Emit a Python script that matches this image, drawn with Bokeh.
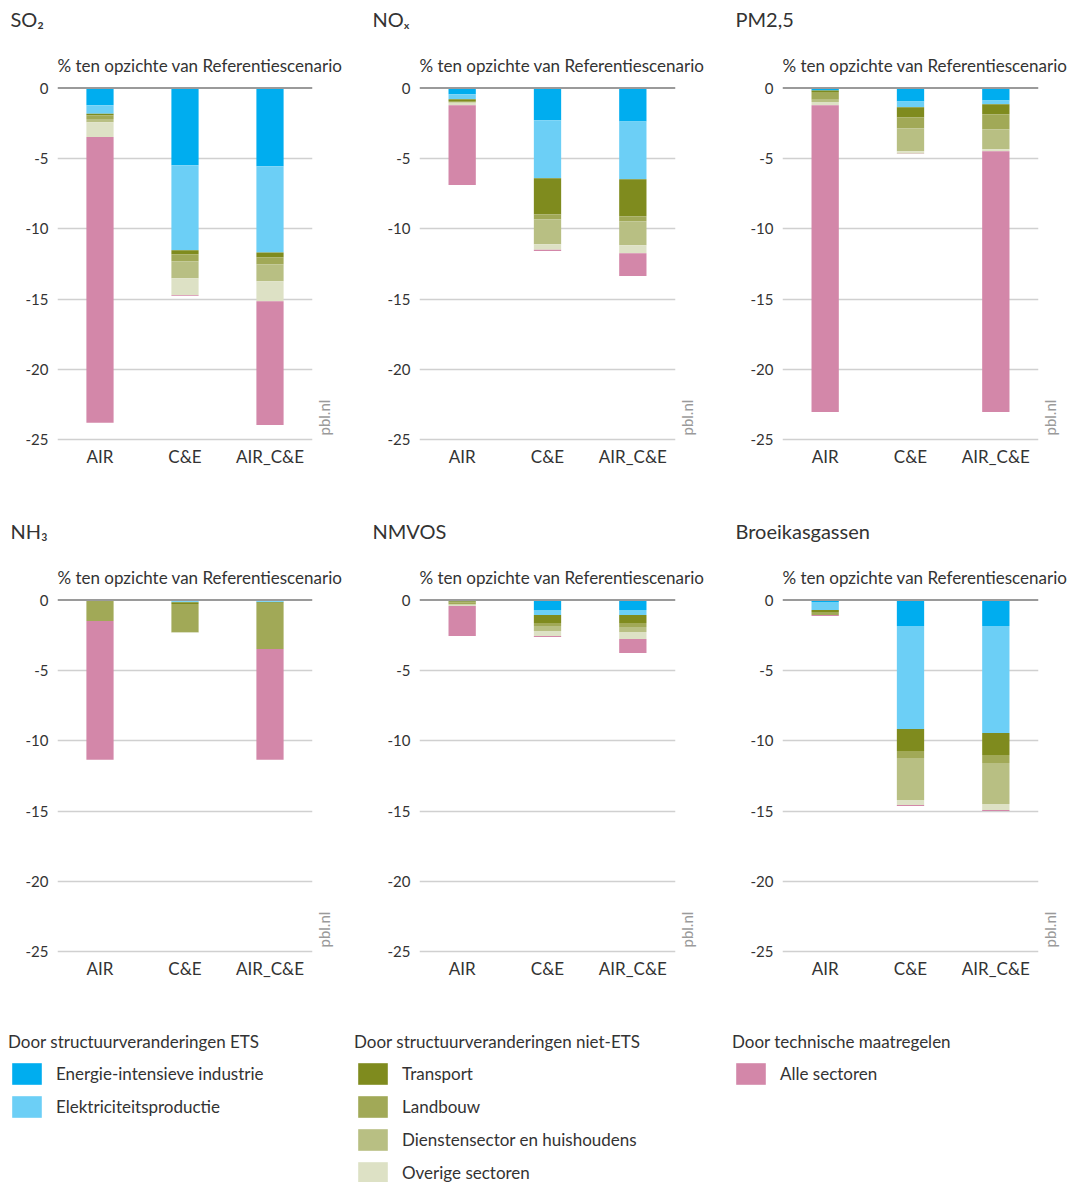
from math import pi

from bokeh.plotting import figure
from bokeh.models import (ColumnDataSource, Range1d, FixedTicker, Span, Label,
                          LinearAxis, Legend, LegendItem)
from bokeh.layouts import column, row
from bokeh.embed import file_html
from bokeh.resources import INLINE

# Scenarios on the x-axis and the contributing sectors (stack order, top to bottom)
scenarios = ["AIR", "C&E", "AIR_C&E"]
sectors = [
    "Energie-intensieve industrie",
    "Elektriciteitsproductie",
    "Transport",
    "Landbouw",
    "Dienstensector en huishoudens",
    "Overige sectoren",
    "Alle sectoren",
]
colors = ["#00adef", "#6ccff6", "#7f8b1e", "#a1a957", "#b8bf83", "#dde1c5", "#d387a9"]

legend_groups = [
    ("Door structuurveranderingen ETS", [0, 1]),
    ("Door structuurveranderingen niet-ETS", [2, 3, 4, 5]),
    ("Door technische maatregelen", [6]),
]

y_ticks = [0, -5, -10, -15, -20, -25]
unit_label = "% ten opzichte van Referentiescenario"
source_label = "pbl.nl"

# Emission change (% vs reference) per sector, values for AIR, C&E, AIR_C&E
so2 = {
    "Energie-intensieve industrie": [-1.23, -5.49, -5.56],
    "Elektriciteitsproductie": [-0.59, -6.03, -6.12],
    "Transport": [-0.12, -0.28, -0.34],
    "Landbouw": [-0.26, -0.50, -0.49],
    "Dienstensector en huishoudens": [-0.24, -1.21, -1.21],
    "Overige sectoren": [-1.04, -1.20, -1.42],
    "Alle sectoren": [-20.29, -0.05, -8.80],
}
nox = {
    "Energie-intensieve industrie": [-0.45, -2.29, -2.37],
    "Elektriciteitsproductie": [-0.35, -4.12, -4.11],
    "Transport": [-0.12, -2.55, -2.63],
    "Landbouw": [-0.07, -0.36, -0.35],
    "Dienstensector en huishoudens": [-0.05, -1.77, -1.70],
    "Overige sectoren": [-0.19, -0.40, -0.57],
    "Alle sectoren": [-5.65, -0.08, -1.63],
}
pm25 = {
    "Energie-intensieve industrie": [-0.17, -0.95, -0.88],
    "Elektriciteitsproductie": [0.0, -0.42, -0.28],
    "Transport": [-0.11, -0.71, -0.71],
    "Landbouw": [-0.55, -0.78, -1.06],
    "Dienstensector en huishoudens": [-0.16, -1.63, -1.42],
    "Overige sectoren": [-0.24, -0.17, -0.14],
    "Alle sectoren": [-21.78, -0.03, -18.52],
}
nh3 = {
    "Energie-intensieve industrie": [0.0, -0.08, -0.08],
    "Elektriciteitsproductie": [0.0, -0.08, -0.08],
    "Transport": [-0.03, -0.12, -0.05],
    "Landbouw": [-1.46, -1.99, -3.27],
    "Dienstensector en huishoudens": [0.0, -0.04, 0.0],
    "Overige sectoren": [0.0, -0.03, 0.0],
    "Alle sectoren": [-9.85, 0.0, -7.86],
}
nmvos = {
    "Energie-intensieve industrie": [-0.05, -0.71, -0.71],
    "Elektriciteitsproductie": [-0.03, -0.36, -0.36],
    "Transport": [-0.10, -0.56, -0.56],
    "Landbouw": [-0.10, -0.22, -0.29],
    "Dienstensector en huishoudens": [-0.05, -0.35, -0.35],
    "Overige sectoren": [-0.10, -0.36, -0.50],
    "Alle sectoren": [-2.13, -0.07, -0.99],
}
ghg = {
    "Energie-intensieve industrie": [-0.14, -1.85, -1.85],
    "Elektriciteitsproductie": [-0.57, -7.31, -7.60],
    "Transport": [-0.14, -1.56, -1.56],
    "Landbouw": [-0.22, -0.50, -0.57],
    "Dienstensector en huishoudens": [0.0, -2.98, -2.91],
    "Overige sectoren": [0.0, -0.36, -0.42],
    "Alle sectoren": [-0.07, -0.07, -0.08],
}

panels = [
    ("SO₂", so2), ("NOₓ", nox), ("PM2,5", pm25),
    ("NH₃", nh3), ("NMVOS", nmvos), ("Broeikasgassen", ghg),
]

FONT = "Lato"
TEXT = "#333333"
HEAD_H = 44
FRAME_H = 359


def make_header(name, width):
    # strip carrying the pollutant name above each chart
    h = figure(width=width, height=HEAD_H, x_range=Range1d(0, 1), y_range=Range1d(0, 1),
               x_axis_location=None, y_axis_location=None, min_border=0,
               output_backend="svg", toolbar_location=None)
    h.grid.visible = False
    h.outline_line_color = None
    h.add_layout(Label(x=10, y=HEAD_H - 18, x_units="screen", y_units="screen",
                       text=name, text_align="left", text_baseline="middle",
                       text_font=FONT, text_font_size="20px", text_color=TEXT))
    return h


def make_chart(data, frame_w, right):
    src = ColumnDataSource(dict(scenario=scenarios, **data))
    p = figure(x_range=scenarios, y_range=Range1d(-25.25, 0.25),
               frame_width=frame_w, frame_height=FRAME_H,
               min_border_left=57, min_border_right=right,
               min_border_top=40, min_border_bottom=69,
               output_backend="svg", toolbar_location=None,
               title=unit_label)
    p.vbar_stack(sectors, x="scenario", width=0.32, color=colors,
                 line_color=None, source=src)

    p.title.text_font = FONT
    p.title.text_font_size = "17px"
    p.title.text_font_style = "normal"
    p.title.text_color = TEXT
    p.title.align = "left"
    p.title.standoff = 17

    p.outline_line_color = None
    p.background_fill_color = "white"
    p.xgrid.visible = False
    p.ygrid.ticker = FixedTicker(ticks=y_ticks[1:])
    p.ygrid.grid_line_color = "#d0d0d0"
    p.ygrid.grid_line_width = 1.3

    p.yaxis.ticker = FixedTicker(ticks=y_ticks)
    p.yaxis.major_label_overrides = {t: str(t) for t in y_ticks}
    p.yaxis.axis_line_color = None
    p.yaxis.major_tick_line_color = None
    p.yaxis.minor_tick_line_color = None
    p.yaxis.major_tick_out = 0
    p.yaxis.major_tick_in = 0
    p.yaxis.major_label_standoff = 9
    p.yaxis.major_label_text_font = FONT
    p.yaxis.major_label_text_font_size = "15px"
    p.yaxis.major_label_text_color = TEXT

    p.xaxis.axis_line_color = None
    p.xaxis.major_tick_line_color = None
    p.xaxis.major_tick_out = 0
    p.xaxis.major_tick_in = 0
    p.xaxis.major_label_standoff = 2
    p.xaxis.major_label_text_font = FONT
    p.xaxis.major_label_text_font_size = "17px"
    p.xaxis.major_label_text_color = TEXT

    p.add_layout(Span(location=0, dimension="width",
                      line_color="#9a9a9a", line_width=2))

    # vertical source tag at the lower right, as a one-tick side axis
    p.extra_y_ranges = {"tag": Range1d(0, FRAME_H)}
    tag = LinearAxis(y_range_name="tag", ticker=FixedTicker(ticks=[8]),
                     major_label_overrides={8: source_label},
                     major_label_orientation=pi / 2,
                     axis_line_color=None, major_tick_line_color=None,
                     minor_tick_line_color=None, major_tick_out=0,
                     major_tick_in=0, major_label_standoff=11,
                     major_label_text_font=FONT,
                     major_label_text_font_size="15px",
                     major_label_text_color="#9a9a9a")
    p.add_layout(tag, "right")
    return p


frame_widths = [255, 256, 256]
right_borders = [50, 50, 38]
headers, charts = [], []
for i, (name, data) in enumerate(panels):
    k = i % 3
    total_w = 57 + frame_widths[k] + right_borders[k]
    headers.append(make_header(name, total_w))
    charts.append(make_chart(data, frame_widths[k], right_borders[k]))


def make_legend(title, idx, width, left):
    p = figure(width=width, height=158, x_range=Range1d(0, 1), y_range=Range1d(0, 1),
               x_axis_location=None, y_axis_location=None,
               min_border_left=left, min_border_top=7, min_border_right=0,
               min_border_bottom=0, output_backend="svg", toolbar_location=None)
    p.grid.visible = False
    p.outline_line_color = None
    items = []
    for i in idx:
        # swatch renderer kept outside the visible range; only its legend entry shows
        r = p.vbar(x=[5], top=[5], bottom=[4], width=0.1,
                   color=colors[i], line_color=None)
        items.append(LegendItem(label=sectors[i], renderers=[r]))
    leg = Legend(items=items, location="top_left", title=title,
                 glyph_width=37, glyph_height=27, spacing=6, label_standoff=11,
                 padding=0, margin=0, border_line_alpha=0,
                 background_fill_alpha=0, title_standoff=8,
                 label_text_font=FONT, label_text_font_size="17px",
                 label_text_color=TEXT, title_text_font=FONT,
                 title_text_font_size="17px", title_text_font_style="normal",
                 title_text_color=TEXT)
    p.add_layout(leg)
    return p


legend_widths = [348, 378, 350]
legend_lefts = [8, 6, 6]
legs = [make_legend(t, idx, legend_widths[k], legend_lefts[k])
        for k, (t, idx) in enumerate(legend_groups)]

layout = column(row(*headers[:3]), row(*charts[:3]),
                row(*headers[3:]), row(*charts[3:]),
                row(*legs))

with open("out.html", "w") as f:
    f.write(file_html(layout, INLINE))
